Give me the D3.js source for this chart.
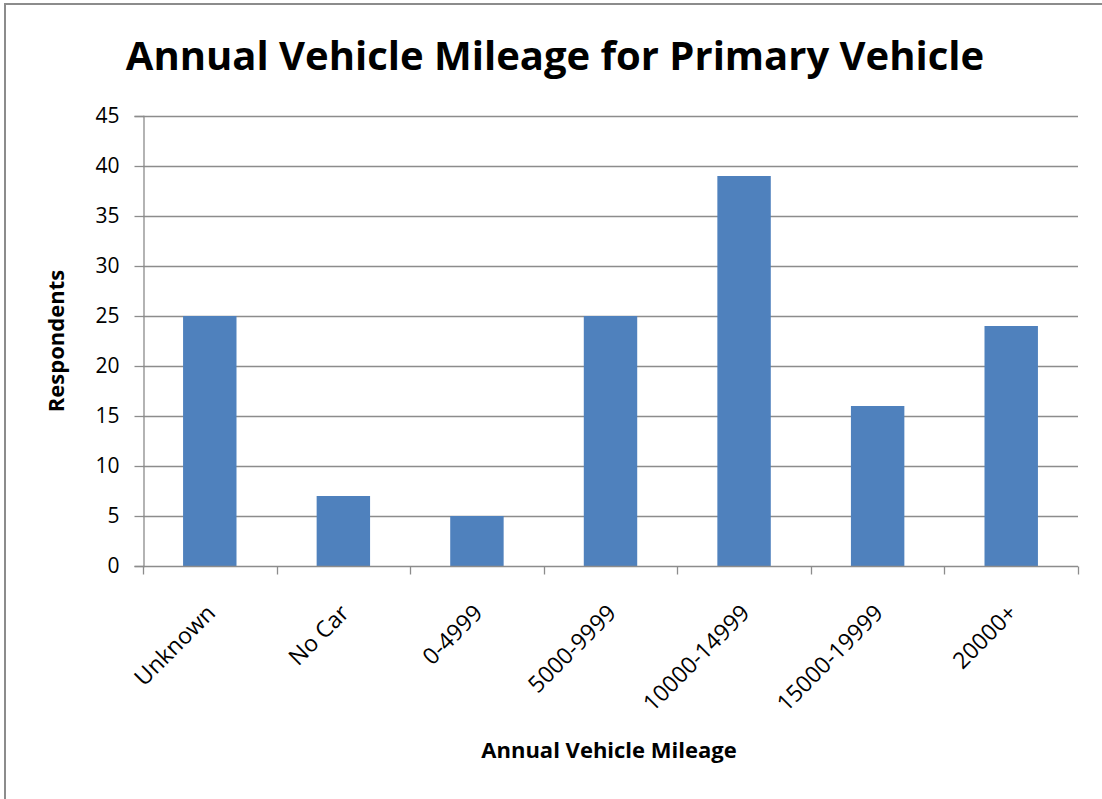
<!DOCTYPE html>
<html>
<head>
<meta charset="utf-8">
<script src="https://cdn.jsdelivr.net/npm/d3@7"></script>
<style>
  html, body { margin: 0; padding: 0; background: #fff; }
  svg { display: block; }
  text { font-family: "Open Sans", "Noto Sans", sans-serif; fill: #000; }
</style>
</head>
<body>
<svg id="chart" width="1102" height="799"></svg>
<script>
// Respondents per annual-mileage bracket
const categories = ["Unknown", "No Car", "0-4999", "5000-9999", "10000-14999", "15000-19999", "20000+"];
const respondents = [25, 7, 5, 25, 39, 16, 24];
const yTicks = [0, 5, 10, 15, 20, 25, 30, 35, 40, 45];

const svg = d3.select("#chart");
const W = 1102, H = 799;
const plot = { left: 143, right: 1078, top: 116, bottom: 566 };

// chart frame
svg.append("rect")
  .attr("x", 5).attr("y", 4)
  .attr("width", W + 20).attr("height", H + 20)
  .attr("fill", "#fff")
  .attr("stroke", "#8c8c8c").attr("stroke-width", 2);

const x = d3.scaleBand()
  .domain(categories)
  .range([plot.left, plot.right])
  .paddingInner(0.6).paddingOuter(0.3);

const xTickScale = d3.scaleBand()
  .domain(categories)
  .range([plot.left, plot.right]);

const y = d3.scaleLinear().domain([0, 45]).range([plot.bottom, plot.top]);

// horizontal gridlines
svg.append("g")
  .selectAll("line")
  .data(yTicks.filter(d => d > 0))
  .join("line")
  .attr("x1", plot.left).attr("x2", plot.right)
  .attr("y1", d => Math.round(y(d)) + 0.5).attr("y2", d => Math.round(y(d)) + 0.5)
  .attr("stroke", "#8c8c8c").attr("stroke-width", 1.3);

// bars
svg.append("g")
  .selectAll("rect")
  .data(categories.map((c, i) => ({ c, v: respondents[i] })))
  .join("rect")
  .attr("x", d => x(d.c))
  .attr("width", x.bandwidth())
  .attr("y", d => y(d.v))
  .attr("height", d => y(0) - y(d.v))
  .attr("fill", "#4F81BD");

// y axis
const yAxis = svg.append("g")
  .attr("transform", `translate(${plot.left + 0.5},0)`)
  .call(d3.axisLeft(y).tickValues(yTicks).tickSize(9).tickPadding(15));
yAxis.select(".domain").attr("stroke", "#8c8c8c").attr("stroke-width", 1.3);
yAxis.selectAll(".tick line").attr("stroke", "#8c8c8c").attr("stroke-width", 1.3);
yAxis.selectAll(".tick text")
  .attr("font-size", 21).attr("fill", "#000")
  .attr("font-family", "'Open Sans', 'Noto Sans', sans-serif");

// x axis with boundary ticks between categories
const xAxisG = svg.append("g").attr("transform", `translate(0,${Math.round(plot.bottom) + 0.5})`);
xAxisG.append("line")
  .attr("x1", plot.left).attr("x2", plot.right)
  .attr("stroke", "#8c8c8c").attr("stroke-width", 1.3);
const boundaries = categories.map(c => xTickScale(c)).concat([plot.right]);
xAxisG.selectAll("line.tick")
  .data(boundaries)
  .join("line")
  .attr("class", "tick")
  .attr("x1", d => Math.round(d) + 0.5).attr("x2", d => Math.round(d) + 0.5)
  .attr("y1", 0).attr("y2", 8)
  .attr("stroke", "#8c8c8c").attr("stroke-width", 1.3);

// rotated category labels
xAxisG.selectAll("text")
  .data(categories)
  .join("text")
  .attr("transform", d => `translate(${x(d) + x.bandwidth() / 2 + 7},${48}) rotate(-45)`)
  .attr("text-anchor", "end")
  .attr("font-size", 23)
  .text(d => d);

// titles
svg.append("text")
  .attr("x", 555).attr("y", 70)
  .attr("text-anchor", "middle")
  .attr("font-size", 40).attr("font-weight", "bold")
  .text("Annual Vehicle Mileage for Primary Vehicle");

svg.append("text")
  .attr("x", 609).attr("y", 758)
  .attr("text-anchor", "middle")
  .attr("font-size", 22).attr("font-weight", "bold")
  .text("Annual Vehicle Mileage");

svg.append("text")
  .attr("transform", "translate(64,341) rotate(-90)")
  .attr("text-anchor", "middle")
  .attr("font-size", 22).attr("font-weight", "bold")
  .text("Respondents");
</script>
</body>
</html>
